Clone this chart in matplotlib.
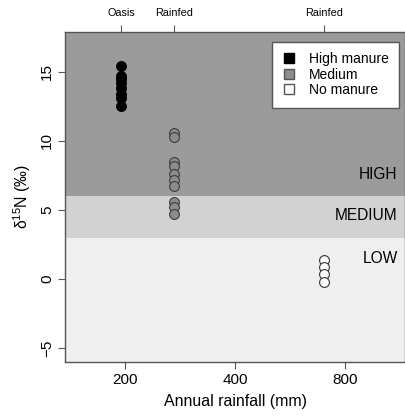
import numpy as np
import matplotlib.pyplot as plt
from matplotlib.lines import Line2D

plt.rcParams['font.family'] = ['Liberation Sans', 'DejaVu Sans']
plt.rcParams['mathtext.default'] = 'regular'

# site rainfall (mm) and d15N values
oasis_rain = 195
oasis_d15n = [15.4, 14.7, 14.5, 14.2, 13.8, 13.4, 13.1, 12.5]
rainfed_rain = 272
rainfed_d15n = [10.6, 10.3, 8.5, 8.2, 7.6, 7.2, 6.7, 5.6, 5.2, 4.7]
dry_rain = 700
dry_d15n = [1.4, 0.9, 0.4, -0.2]

site_rain = [oasis_rain, rainfed_rain, dry_rain]
site_names = ["Oasis", "Rainfed", "Rainfed"]
x_ticks = [200, 400, 800]

# bands: (lower, upper, colour, label)
band_edges = [-6, 3, 6, 18]
band_names = ["LOW", "MEDIUM", "HIGH"]
band_colors = ["#efefef", "#d2d2d2", "#9b9b9b"]

fig = plt.figure(figsize=(4.05, 4.17), dpi=100)
ax = fig.add_axes([0.1605, 0.132, 0.8395, 0.792])
ax.set_xscale("log")
ax.set_xlim(137, 1165)
ax.set_ylim(-6, 17.9)

for i in range(3):
    ax.axhspan(band_edges[i], band_edges[i + 1], color=band_colors[i], lw=0, zorder=0)
label_y = [1.5, 4.6, 7.6]
for name, yy in zip(band_names, label_y):
    ax.text(0.978, yy, name, transform=ax.get_yaxis_transform(), ha="right", va="center",
            fontsize=11.2, color="black")

ms = 50
ax.scatter([oasis_rain] * len(oasis_d15n), oasis_d15n, s=ms, c="black", edgecolors="black", lw=0.8, zorder=3)
ax.scatter([rainfed_rain] * len(rainfed_d15n), rainfed_d15n, s=ms, c="#8c8c8c", edgecolors="#3c3c3c", lw=0.8, zorder=3)
ax.scatter([dry_rain] * len(dry_d15n), dry_d15n, s=ms, c="white", edgecolors="#333333", lw=0.8, zorder=3)

ax.set_xticks(x_ticks)
ax.set_xticklabels([str(t) for t in x_ticks])
ax.xaxis.set_minor_locator(plt.NullLocator())
ax.set_yticks([-5, 0, 5, 10, 15])
ax.tick_params(axis="both", labelsize=11, length=5, color="#555555", pad=3)
for lab in ax.get_yticklabels():
    lab.set_rotation(90)
    lab.set_va("center")

ax.set_xlabel("Annual rainfall (mm)", fontsize=11.4, labelpad=5)
ax.set_ylabel("δ$^{15}$N (‰)", fontsize=11.4, labelpad=5)

for sp in ax.spines.values():
    sp.set_color("#555555")
    sp.set_linewidth(1.0)

top = ax.secondary_xaxis("top")
top.set_xticks(site_rain)
top.set_xticklabels(site_names)
top.xaxis.set_minor_locator(plt.NullLocator())
top.tick_params(labelsize=7.8, length=5, color="#555555", pad=5)
top.spines["top"].set_visible(False)

handles = [
    Line2D([], [], ls="none", marker="s", ms=6.5, mfc="black", mec="black"),
    Line2D([], [], ls="none", marker="s", ms=6.5, mfc="#8c8c8c", mec="#555555"),
    Line2D([], [], ls="none", marker="s", ms=6.5, mfc="white", mec="#555555"),
]
leg = ax.legend(handles, ["High manure", "Medium", "No manure"], loc="upper right",
                bbox_to_anchor=(0.982, 0.97), borderaxespad=0, fontsize=10, fancybox=False,
                framealpha=1, edgecolor="#555555", handletextpad=0.9, borderpad=0.75,
                labelspacing=0.12, handlelength=1.0)
leg.get_frame().set_linewidth(1.0)

plt.savefig("out.png", dpi=100)
